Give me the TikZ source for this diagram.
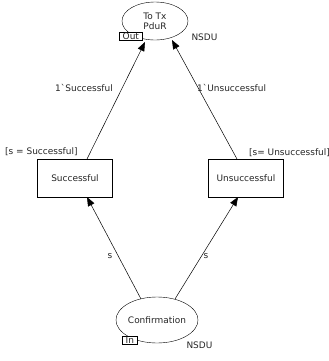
\documentclass[tikz,border=0pt]{standalone}
\usepackage{fontspec}
\setmainfont{DejaVu Sans}
\usetikzlibrary{arrows.meta,shapes.geometric}
\begin{document}
\begin{tikzpicture}[x=1bp,y=-1bp,
  every node/.style={font=\fontsize{9}{10}\selectfont, text=black!85},
  place/.style={draw, ellipse, inner sep=0pt},
  trans/.style={draw, rectangle, minimum width=75bp, minimum height=38bp, inner sep=0pt},
  portbox/.style={draw, fill=white, rectangle, inner xsep=3.5bp, inner ysep=0.3bp,
    minimum height=8bp, font=\fontsize{9}{9}\selectfont},
  arc/.style={-{Triangle[length=9bp,width=7bp]}, line width=0.5pt}]
\useasboundingbox (0,0) rectangle (329,361);
% places
\node[place, minimum width=66bp, minimum height=38bp, align=center] (tx) at (155,21) {To Tx\\PduR};
\node[place, minimum width=71bp, minimum height=46bp] (conf) at (157,320) {Confirmation};
\node[portbox, anchor=north west] (out) at (119,32) {Out};
\node[anchor=west] (ntx) at (188,37) {NSDU};
\node[portbox, anchor=north west] (in) at (122,336) {In};
\node[anchor=west] (nconf) at (183,345) {NSDU};
% transitions
\node[trans] (succ) at (75,178) {Successful};
\node[trans] (unsucc) at (246,178) {Unsuccessful};
\node[anchor=west, inner sep=0pt] (gs) at (5,152) {[s = Successful]};
\node[anchor=west, inner sep=0pt] (gu) at (249,153) {[s= Unsuccessful]};
% arcs
\coordinate (s1) at (87,159);
\coordinate (t1) at (145,42);
\coordinate (s2) at (237,159);
\coordinate (t2) at (172,40);
\coordinate (c1) at (141,299);
\coordinate (b1) at (87,197);
\coordinate (c2) at (175,299);
\coordinate (b2) at (238,197);
\draw[arc] (s1) -- (t1);
\draw[arc] (s2) -- (t2);
\draw[arc] (c1) -- (b1);
\draw[arc] (c2) -- (b2);
% arc inscriptions
\node[anchor=east, inner sep=0pt] (l1) at (113,88) {1\textasciigrave Successful};
\node[anchor=west, inner sep=0pt] (l2) at (197,88) {1\textasciigrave Unsuccessful};
\node (l3) at (110,256) {s};
\node (l4) at (206,256) {s};
\end{tikzpicture}
\end{document}
